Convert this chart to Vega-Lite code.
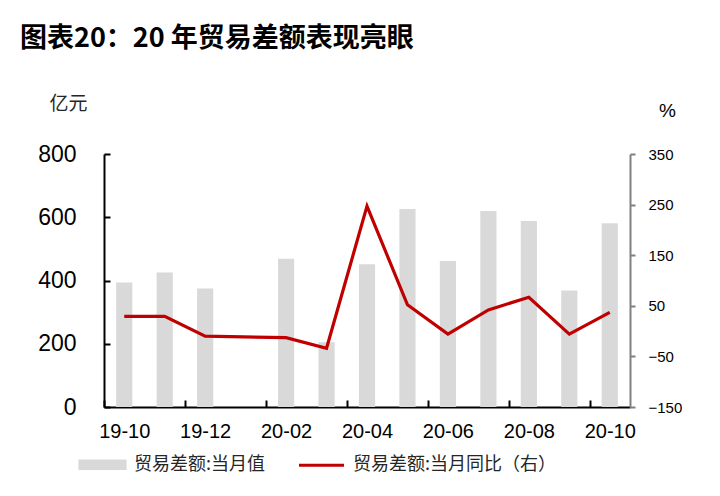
{
  "$schema": "https://vega.github.io/schema/vega-lite/v6.json",
  "width": 526,
  "height": 253,
  "autosize": "none",
  "padding": {"left": 104, "top": 154, "right": 90, "bottom": 89},
  "title": {
    "text": "图表20：20 年贸易差额表现亮眼",
    "anchor": "start",
    "frame": "group",
    "font": "Noto Sans CJK SC",
    "fontSize": 27,
    "fontWeight": "bold",
    "color": "black",
    "dx": -84,
    "offset": 41
  },
  "data": {
    "values": [
      {"month": "19-10", "value": 394, "yoy": 29},
      {"month": "19-11", "value": 425, "yoy": 29},
      {"month": "19-12", "value": 375, "yoy": -10},
      {"month": "20-01", "value": null, "yoy": null},
      {"month": "20-02", "value": 469, "yoy": -13},
      {"month": "20-03", "value": 205, "yoy": -34},
      {"month": "20-04", "value": 451, "yoy": 247},
      {"month": "20-05", "value": 626, "yoy": 52},
      {"month": "20-06", "value": 462, "yoy": -6},
      {"month": "20-07", "value": 620, "yoy": 42},
      {"month": "20-08", "value": 588, "yoy": 67},
      {"month": "20-09", "value": 368, "yoy": -6},
      {"month": "20-10", "value": 581, "yoy": 37}
    ]
  },
  "encoding": {
    "x": {
      "field": "month",
      "type": "ordinal",
      "sort": null,
      "title": null,
      "scale": {
        "domain": ["19-10", "19-11", "19-12", "20-01", "20-02", "20-03", "20-04", "20-05", "20-06", "20-07", "20-08", "20-09", "20-10"],
        "paddingInner": 0.6,
        "paddingOuter": 0.3
      },
      "axis": {
        "values": ["19-10", "19-12", "20-02", "20-04", "20-06", "20-08", "20-10"],
        "labelAngle": 0,
        "labelFont": "Liberation Sans",
        "labelFontSize": 20,
        "labelColor": "black",
        "labelPadding": 21,
        "labelOffset": 12.14,
        "domainColor": "black",
        "domainWidth": 2,
        "tickColor": "black",
        "tickWidth": 2,
        "tickSize": -7,
        "bandPosition": 0,
        "tickOffset": -12.14,
        "tickExtra": false,
        "grid": false
      }
    }
  },
  "layer": [
    {
      "mark": {"type": "bar"},
      "encoding": {
        "y": {
          "field": "value",
          "type": "quantitative",
          "scale": {"domain": [0, 800], "nice": false},
          "axis": {
            "orient": "left",
            "values": [0, 200, 400, 600, 800],
            "title": "亿元",
            "titleAngle": 0,
            "titleX": -36,
            "titleY": -51,
            "titleAlign": "center",
            "titleBaseline": "middle",
            "titleFont": "Noto Sans CJK SC",
            "titleFontSize": 19,
            "titleFontWeight": "normal",
            "titleColor": "#262626",
            "labelFont": "Liberation Sans",
            "labelFontSize": 23,
            "labelColor": "black",
            "labelPadding": 34,
            "domainColor": "black",
            "domainWidth": 2,
            "tickColor": "black",
            "tickWidth": 2,
            "tickSize": -6,
            "grid": false
          }
        },
        "color": {"datum": "贸易差额:当月值"}
      }
    },
    {
      "transform": [{"filter": "datum.yoy != null"}],
      "mark": {"type": "line", "strokeWidth": 3.2},
      "encoding": {
        "y": {
          "field": "yoy",
          "type": "quantitative",
          "scale": {"domain": [-150, 350], "nice": false, "zero": false},
          "axis": {
            "orient": "right",
            "values": [-150, -50, 50, 150, 250, 350],
            "title": "%",
            "titleAngle": 0,
            "titleX": 37,
            "titleY": -44,
            "titleAlign": "center",
            "titleBaseline": "middle",
            "titleFont": "Liberation Sans",
            "titleFontSize": 19,
            "titleFontWeight": "normal",
            "titleColor": "black",
            "labelFont": "Liberation Sans",
            "labelFontSize": 15,
            "labelColor": "black",
            "labelPadding": 13,
            "domainColor": "#808080",
            "domainWidth": 2,
            "tickColor": "#808080",
            "tickWidth": 2,
            "tickSize": 5,
            "grid": false
          }
        },
        "color": {
          "datum": "贸易差额:当月同比（右）",
          "legend": {
            "orient": "none",
            "legendX": -26,
            "legendY": 286,
            "direction": "horizontal",
            "title": null,
            "labelFont": "Noto Sans CJK SC",
            "labelFontSize": 18,
            "labelColor": "#262626",
            "labelLimit": 400,
            "labelOffset": 7,
            "columnPadding": 26,
            "symbolSize": 2025,
            "encode": {
              "symbols": {
                "update": {
                  "shape": {"signal": "datum.value === '贸易差额:当月值' ? 'M-1,-0.16H1V0.16H-1Z' : 'stroke'"},
                  "fill": {"signal": "datum.value === '贸易差额:当月值' ? '#d9d9d9' : 'transparent'"},
                  "stroke": {"signal": "datum.value === '贸易差额:当月值' ? 'transparent' : '#c00000'"},
                  "strokeWidth": {"value": 3.2},
                  "opacity": {"value": 1},
                  "fillOpacity": {"value": 1},
                  "strokeOpacity": {"value": 1}
                }
              }
            }
          }
        }
      }
    }
  ],
  "resolve": {"scale": {"y": "independent"}},
  "config": {
    "view": {"stroke": null},
    "range": {"category": ["#d9d9d9", "#c00000"]}
  }
}
